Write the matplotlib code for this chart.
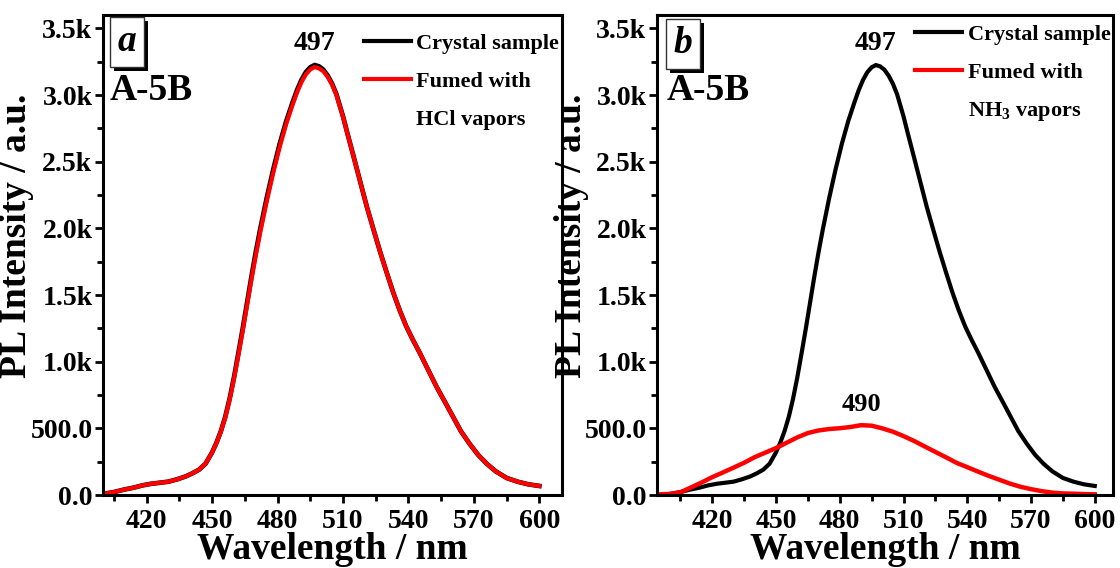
import numpy as np
import matplotlib
matplotlib.use("Agg")
import matplotlib.pyplot as plt
import matplotlib.patheffects as pe
from matplotlib.lines import Line2D
from matplotlib.ticker import MultipleLocator, FuncFormatter

# PL spectra
wl_crystal = [400, 405, 410, 414, 418, 422, 426, 430, 434, 438, 441, 444, 447,
              450, 452, 454, 456, 458, 460, 462, 464, 466, 468, 470, 472, 475,
              478, 481, 484, 487, 489, 491, 493, 495, 497, 499, 501, 503, 505,
              507, 510, 512, 515, 518, 521, 524, 527, 530, 533, 536, 539, 542,
              545, 549, 553, 557, 560.5, 564, 568, 572, 576, 580, 585, 590,
              595, 600]
crystal = [8, 22, 42, 55, 72, 84, 92, 100, 118, 140, 163, 190, 235,
           320, 392, 478, 585, 720, 880, 1060, 1245, 1440, 1635, 1820, 1990, 2225,
           2440, 2635, 2805, 2950, 3040, 3115, 3172, 3208, 3225, 3215, 3190, 3145, 3085,
           3005, 2840, 2714, 2530, 2343, 2158, 1990, 1825, 1670, 1520, 1385, 1265, 1165,
           1072, 940, 808, 690, 585, 480, 385, 300, 233, 178, 128, 100,
           80, 68]
hcl = [8, 22, 42, 55, 72, 84, 92, 100, 118, 140, 163, 190, 235,
       320, 390, 475, 580, 712, 870, 1045, 1228, 1420, 1612, 1795, 1965, 2200,
       2415, 2612, 2785, 2932, 3022, 3098, 3155, 3192, 3210, 3200, 3178, 3135, 3078,
       3000, 2836, 2712, 2528, 2343, 2158, 1990, 1825, 1670, 1520, 1385, 1265, 1165,
       1072, 940, 808, 690, 585, 480, 385, 300, 233, 178, 128, 100,
       80, 68]

wl_nh3 = [395, 400, 405, 410, 415, 420, 425, 430, 435, 440, 445, 450, 455, 460,
          465, 470, 475, 480, 485, 490, 495, 500, 505, 510, 515, 520, 525, 530,
          535, 540, 545, 550, 555, 560, 565, 570, 575, 580, 585, 590, 595, 600]
nh3 = [5, 8, 20, 57, 94, 134, 169, 205, 242, 284, 318, 352, 392, 432,
       465, 484, 495, 501, 510, 524, 520, 500, 475, 442, 405, 364, 323, 283,
       241, 209, 176, 144, 115, 86, 62, 44, 29, 18, 12, 10, 7, 5]

labels_a = ["Crystal sample", "Fumed with", "HCl vapors"]
labels_b = ["Crystal sample", "Fumed with", r"NH$_{3}$ vapors"]
peak_a = [(497, "497")]
peak_b = [(497, "497"), (490, "490")]

plt.rcParams.update({
    "font.family": "Liberation Serif",
    "font.weight": "bold",
    "axes.labelweight": "bold",
    "mathtext.fontset": "custom",
    "mathtext.rm": "Liberation Serif:bold",
    "mathtext.it": "Liberation Serif:italic:bold",
    "mathtext.bf": "Liberation Serif:bold",
    "mathtext.default": "rm",
})


def k_fmt(v, pos):
    if v < 1000:
        return f"{v:.1f}"
    return f"{v / 1000:.1f}k"


def style_axes(ax, xlim):
    ax.set_xlim(*xlim)
    ax.set_ylim(0, 3600)
    ax.xaxis.set_major_locator(MultipleLocator(30))
    ax.xaxis.set_minor_locator(MultipleLocator(15))
    ax.yaxis.set_major_locator(MultipleLocator(500))
    ax.yaxis.set_minor_locator(MultipleLocator(250))
    ax.yaxis.set_major_formatter(FuncFormatter(k_fmt))
    ax.tick_params(which="major", direction="out", length=6, width=2,
                   labelsize=20, pad=1.5)
    ax.tick_params(axis="x", which="major", pad=4)
    ax.tick_params(which="minor", direction="out", length=4, width=2)
    for s in ax.spines.values():
        s.set_linewidth(2.2)
    ax.set_xlabel("Wavelength / nm", fontsize=27)
    ax.xaxis.label.set_va("baseline")
    ax.set_ylabel("PL Intensity / a.u.", fontsize=27)
    ax.xaxis.set_label_coords(0.5, -0.133)
    ax.yaxis.set_label_coords(-0.15, 0.54)


def add_legend(ax, labels, anchor):
    handles = [Line2D([], [], color="black", lw=3),
               Line2D([], [], color="red", lw=3),
               Line2D([], [], color="none")]
    ax.legend(handles, labels, loc="upper right", bbox_to_anchor=anchor,
              frameon=False, prop=dict(size=16, weight="bold"),
              handlelength=2.1, handletextpad=0.25, labelspacing=0.78,
              borderpad=0, borderaxespad=0)


def panel_tag(ax, tag, pos):
    t = ax.text(pos[0], pos[1], tag, transform=ax.transAxes, fontsize=27,
                style="italic", weight="bold", ha="center", va="center",
                bbox=dict(boxstyle="square,pad=0.2", fc="white", ec="#333333", lw=1))
    t.get_bbox_patch().set_path_effects(
        [pe.withSimplePatchShadow(offset=(3, -3), shadow_rgbFace="black", alpha=1)])


fig = plt.figure(figsize=(11.2, 5.68), dpi=100)
ax_a = fig.add_axes([0.092, 0.1285, 0.410, 0.845])
ax_b = fig.add_axes([0.5866, 0.1285, 0.407, 0.845])

# panel a
ax_a.plot(wl_crystal, crystal, color="black", lw=3.4)
ax_a.plot(wl_crystal, hcl, color="red", lw=3.0)
style_axes(ax_a, (400, 610.5))
add_legend(ax_a, labels_a, (0.993, 0.962))
panel_tag(ax_a, "a", (0.052, 0.944))
ax_a.text(0.015, 0.843, "A-5B", transform=ax_a.transAxes, fontsize=27,
          ha="left", va="center")
for x, s in peak_a:
    ax_a.text(x, 3290, s, fontsize=20, ha="center", va="bottom")

# panel b
ax_b.plot(wl_crystal, crystal, color="black", lw=3.0)
ax_b.plot(wl_nh3, nh3, color="red", lw=3.2)
style_axes(ax_b, (394, 608.5))
add_legend(ax_b, labels_b, (0.995, 0.980))
panel_tag(ax_b, "b", (0.057, 0.94))
ax_b.text(0.022, 0.843, "A-5B", transform=ax_b.transAxes, fontsize=27,
          ha="left", va="center")
ax_b.text(peak_b[0][0], 3290, peak_b[0][1], fontsize=20, ha="center", va="bottom")
ax_b.text(peak_b[1][0], 590, peak_b[1][1], fontsize=19, ha="center", va="bottom")

fig.savefig("out.png", dpi=100)
